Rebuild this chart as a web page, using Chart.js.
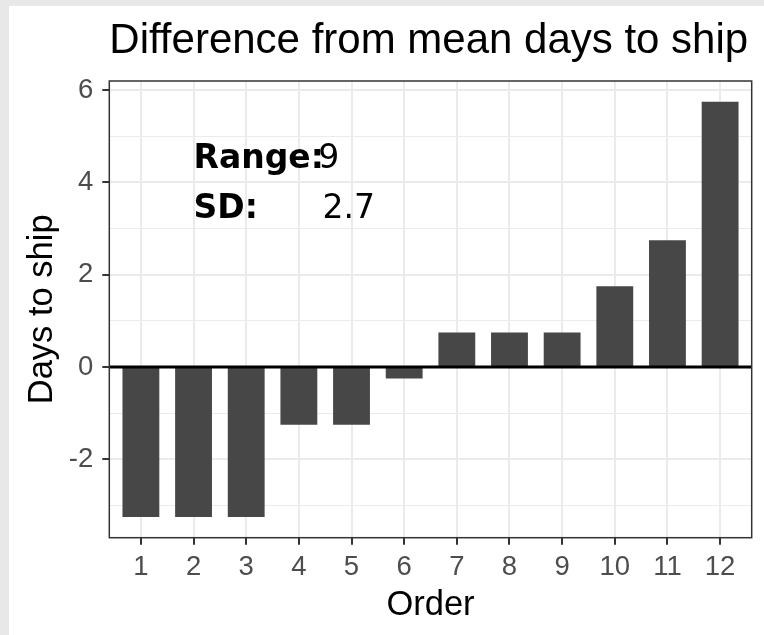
<!DOCTYPE html>
<html>
<head>
<meta charset="utf-8">
<script src="https://cdn.jsdelivr.net/npm/chart.js@4/dist/chart.umd.min.js"></script>
<style>
  html, body { margin: 0; padding: 0; background: #e8e8e8; width: 764px; height: 635px; overflow: hidden; }
  #wrap { position: absolute; left: 9px; top: 6px; width: 755px; height: 629px; background: #ffffff; }
  canvas { display: block; background: #ffffff; }
</style>
</head>
<body>
<div id="wrap"><canvas id="c" width="755" height="629"></canvas></div>
<script>
// ---- data ----
const categories = [1, 2, 3, 4, 5, 6, 7, 8, 9, 10, 11, 12];
const diffDays = [-3.25, -3.25, -3.25, -1.25, -1.25, -0.25, 0.75, 0.75, 0.75, 1.75, 2.75, 5.75];
const yTickValues = [-3, -2, -1, 0, 1, 2, 3, 4, 5, 6];
const yLabelledTicks = [-2, 0, 2, 4, 6];
const statLabels = ['Range:', 'SD:'];
const statValues = ['9', '2.7'];
const chartTitle = 'Difference from mean days to ship';
const xTitle = 'Order';
const yTitle = 'Days to ship';

// ---- placement of the annotation text (data coordinates) ----
const statLabelX = 2;
const statValueX = [4.37, 4.45];
const statBaselineY = [4.31, 3.22];

const FONT = "'Liberation Sans', Arial, Helvetica, sans-serif";
const NOTE_FONT = "'DejaVu Sans', sans-serif";

const overlay = {
  id: 'overlay',
  afterDatasetsDraw(chart) {
    const { ctx, chartArea: a, scales: { x, y } } = chart;
    ctx.save();
    // zero reference line
    const y0 = y.getPixelForValue(0);
    ctx.strokeStyle = '#000000';
    ctx.lineWidth = 3;
    ctx.beginPath();
    ctx.moveTo(a.left, y0);
    ctx.lineTo(a.right, y0);
    ctx.stroke();
    // panel border
    ctx.strokeStyle = '#333333';
    ctx.lineWidth = 1.5;
    ctx.strokeRect(a.left, a.top, a.right - a.left, a.bottom - a.top);

    // annotations
    ctx.fillStyle = '#000000';
    ctx.textBaseline = 'alphabetic';
    ctx.textAlign = 'left';
    for (let i = 0; i < statLabels.length; i++) {
      const py = y.getPixelForValue(statBaselineY[i]);
      ctx.font = 'bold 33px ' + NOTE_FONT;
      ctx.fillText(statLabels[i], x.getPixelForValue(statLabelX), py);
      ctx.font = '33px ' + NOTE_FONT;
      ctx.fillText(statValues[i], x.getPixelForValue(statValueX[i]), py);
    }

    // title
    ctx.font = '42px ' + FONT;
    ctx.fillText(chartTitle, a.left, 47.3);

    // x title
    ctx.font = '34.5px ' + FONT;
    ctx.textAlign = 'center';
    ctx.fillText(xTitle, (a.left + a.right) / 2, 608.5);

    // y title
    ctx.save();
    ctx.translate(42.7, (a.top + a.bottom) / 2);
    ctx.rotate(-Math.PI / 2);
    ctx.fillText(yTitle, 0, 0);
    ctx.restore();

    ctx.restore();
  }
};

new Chart(document.getElementById('c'), {
  type: 'bar',
  data: {
    datasets: [{
      data: categories.map((c, i) => ({ x: c, y: diffDays[i] })),
      backgroundColor: '#474747',
      borderWidth: 0,
      barPercentage: 0.7,
      categoryPercentage: 1.0
    }]
  },
  options: {
    responsive: false,
    animation: false,
    devicePixelRatio: 1,
    layout: { padding: { left: 0, right: 12.3, top: 75, bottom: 0 } },
    plugins: { legend: { display: false }, tooltip: { enabled: false }, title: { display: false } },
    scales: {
      x: {
        type: 'linear',
        min: 0.4,
        max: 12.6,
        offset: false,
        afterBuildTicks: s => { s.ticks = categories.map(v => ({ value: v })); },
        afterFit: s => { s.height = 97.3; },
        border: { display: false },
        grid: { offset: false, color: '#ebebeb', lineWidth: 2, tickColor: '#333333', tickWidth: 2, tickLength: 7, drawTicks: true },
        ticks: {
          font: { family: FONT, size: 27.5 },
          color: '#4d4d4d',
          padding: 6,
          maxRotation: 0,
          autoSkip: false,
          callback: v => String(v)
        }
      },
      y: {
        min: -3.7,
        max: 6.2,
        afterBuildTicks: s => { s.ticks = yTickValues.map(v => ({ value: v })); },
        afterFit: s => { s.width = 100.3; },
        border: { display: false },
        grid: {
          color: '#ebebeb',
          lineWidth: c => (yLabelledTicks.includes(c.tick.value) ? 2 : 1.1),
          tickColor: c => (yLabelledTicks.includes(c.tick.value) ? '#333333' : 'rgba(0,0,0,0)'),
          tickWidth: 2,
          tickLength: 7,
          drawTicks: true
        },
        ticks: {
          font: { family: FONT, size: 27.5 },
          color: '#4d4d4d',
          padding: 9,
          autoSkip: false,
          callback: v => (yLabelledTicks.includes(v) ? String(v) : '')
        }
      }
    }
  },
  plugins: [overlay]
});
</script>
</body>
</html>
